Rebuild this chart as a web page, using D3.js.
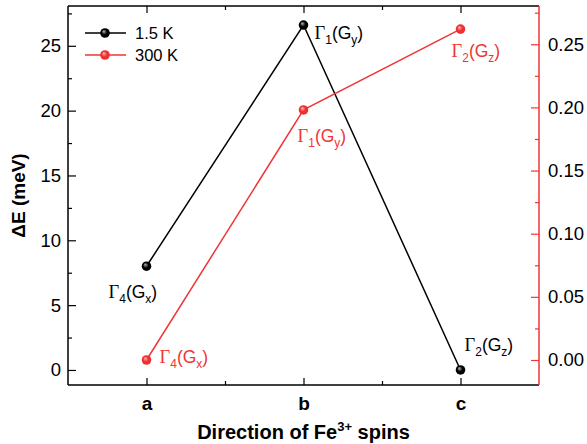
<!DOCTYPE html>
<html>
<head>
<meta charset="utf-8">
<script src="https://cdn.jsdelivr.net/npm/d3@7"></script>
<style>
  html, body { margin: 0; padding: 0; background: #fff; }
  svg { display: block; font-family: "Liberation Sans", Arial, sans-serif; }
</style>
</head>
<body>
<svg id="chart" width="587" height="444"></svg>
<script>
// Spin directions and energy differences
const directions = ["a", "b", "c"];
const lowTValues = [8.0, 26.6, 0.0];        // 1.5 K, left axis (meV)
const highTValues = [0.0, 0.198, 0.262];    // 300 K, right axis
const seriesNames = ["1.5 K", "300 K"];
const lowTLabels = [["4", "x"], ["1", "y"], ["2", "z"]];
const highTLabels = [["4", "x"], ["1", "y"], ["2", "z"]];
const leftTicks = [0, 5, 10, 15, 20, 25];
const rightTicks = [0.00, 0.05, 0.10, 0.15, 0.20, 0.25];

const RED = "#f03535";
const svg = d3.select("#chart");
const m = { left: 68, right: 539, top: 6, bottom: 385 };

const x = d3.scaleLinear().domain([0.5, 3.5]).range([m.left, m.right]);
const yL = d3.scaleLinear().domain([-1.16, 28.07]).range([m.bottom, m.top]);
const yR = d3.scaleLinear().domain([-0.0198, 0.2803]).range([m.bottom, m.top]);

// Shaded ball markers
const defs = svg.append("defs");
function ball(id, light, dark) {
  const g = defs.append("radialGradient").attr("id", id)
    .attr("cx", "0.5").attr("cy", "0.5").attr("r", "0.5")
    .attr("fx", "0.35").attr("fy", "0.3");
  g.append("stop").attr("offset", "0").attr("stop-color", light);
  g.append("stop").attr("offset", "0.55").attr("stop-color", dark);
  g.append("stop").attr("offset", "1").attr("stop-color", dark);
}
ball("ballBlack", "#bdbdbd", "#000");
ball("ballRed", "#ffc0c0", "#ee3030");

const idx = [1, 2, 3];

// Axes (all ticks point inward)
const tickFont = 18.5;
function styleAxis(g, color) {
  g.select(".domain").remove();
  g.selectAll("line").attr("stroke", color).attr("stroke-width", 1.2);
  g.selectAll("text").attr("font-size", tickFont).attr("fill", "#000");
}

// Left axis
const gL = svg.append("g").attr("transform", `translate(${m.left},0)`)
  .call(d3.axisRight(yL).tickValues(leftTicks).tickSize(8).tickFormat(d3.format("d")));
styleAxis(gL, "#000");
gL.selectAll("text").attr("x", -7).attr("text-anchor", "end");
const gLm = svg.append("g").attr("transform", `translate(${m.left},0)`)
  .call(d3.axisRight(yL).tickValues(d3.range(2.5, 28, 5)).tickSize(4).tickFormat(""));
styleAxis(gLm, "#000");

// Right axis
const gR = svg.append("g").attr("transform", `translate(${m.right},0)`)
  .call(d3.axisLeft(yR).tickValues(rightTicks).tickSize(8).tickFormat(d3.format(".2f")));
styleAxis(gR, RED);
gR.selectAll("text").attr("x", 9).attr("text-anchor", "start");
const gRm = svg.append("g").attr("transform", `translate(${m.right},0)`)
  .call(d3.axisLeft(yR).tickValues(d3.range(0.025, 0.28, 0.05)).tickSize(4).tickFormat(""));
styleAxis(gRm, RED);

// Bottom axis
const gB = svg.append("g").attr("transform", `translate(0,${m.bottom})`)
  .call(d3.axisTop(x).tickValues(idx).tickSize(7).tickFormat((d, i) => directions[i]));
styleAxis(gB, "#000");
gB.selectAll("text").attr("y", 25).attr("dy", 0).attr("font-size", 19).attr("font-weight", "bold");
const gBm = svg.append("g").attr("transform", `translate(0,${m.bottom})`)
  .call(d3.axisTop(x).tickValues([1.5, 2.5]).tickSize(4).tickFormat(""));
styleAxis(gBm, "#000");

// Top axis
const gT = svg.append("g").attr("transform", `translate(0,${m.top})`)
  .call(d3.axisBottom(x).tickValues(idx).tickSize(7).tickFormat(""));
styleAxis(gT, "#000");
const gTm = svg.append("g").attr("transform", `translate(0,${m.top})`)
  .call(d3.axisBottom(x).tickValues([1.5, 2.5]).tickSize(4).tickFormat(""));
styleAxis(gTm, "#000");

// Frame
svg.append("line").attr("x1", m.left).attr("x2", m.right).attr("y1", m.top).attr("y2", m.top)
  .attr("stroke", "#000").attr("stroke-width", 1.5);
svg.append("line").attr("x1", m.left).attr("x2", m.right).attr("y1", m.bottom).attr("y2", m.bottom)
  .attr("stroke", "#000").attr("stroke-width", 1.5);
svg.append("line").attr("x1", m.left).attr("x2", m.left).attr("y1", m.top).attr("y2", m.bottom)
  .attr("stroke", "#000").attr("stroke-width", 1.5);
svg.append("line").attr("x1", m.right).attr("x2", m.right).attr("y1", m.top).attr("y2", m.bottom)
  .attr("stroke", RED).attr("stroke-width", 1.5);

// Series lines and markers
const lineL = d3.line().x((d, i) => x(idx[i])).y(d => yL(d));
const lineR = d3.line().x((d, i) => x(idx[i])).y(d => yR(d));
svg.append("path").datum(lowTValues).attr("d", lineL)
  .attr("fill", "none").attr("stroke", "#000").attr("stroke-width", 1.5);
svg.append("path").datum(highTValues).attr("d", lineR)
  .attr("fill", "none").attr("stroke", RED).attr("stroke-width", 1.5);

svg.selectAll(".ptL").data(lowTValues).enter().append("circle")
  .attr("cx", (d, i) => x(idx[i])).attr("cy", d => yL(d)).attr("r", 4.8)
  .attr("fill", "url(#ballBlack)");
svg.selectAll(".ptR").data(highTValues).enter().append("circle")
  .attr("cx", (d, i) => x(idx[i])).attr("cy", d => yR(d)).attr("r", 4.8)
  .attr("fill", "url(#ballRed)");

// Irreducible representation labels, Γn(Gk)
function irrep(px, py, lab, color) {
  const t = svg.append("text").attr("x", px).attr("y", py)
    .attr("font-size", 17.5).attr("fill", color);
  t.append("tspan").attr("font-family", "'Liberation Serif', 'Times New Roman', serif").attr("font-size", 18.5).text("Γ");
  t.append("tspan").attr("font-size", 12).attr("dy", 5).text(lab[0]);
  t.append("tspan").attr("dy", -5).text("(G");
  t.append("tspan").attr("font-size", 12).attr("dy", 5).text(lab[1]);
  t.append("tspan").attr("dy", -5).text(")");
}
const offL = [[-38, 32], [11, 14], [4, -19]];
const offR = [[13, 3], [-6, 32], [-9, 28]];
lowTValues.forEach((v, i) => irrep(x(idx[i]) + offL[i][0], yL(v) + offL[i][1], lowTLabels[i], "#000"));
highTValues.forEach((v, i) => irrep(x(idx[i]) + offR[i][0], yR(v) + offR[i][1], highTLabels[i], RED));

// Legend
const legend = svg.append("g");
[["#000", "url(#ballBlack)"], [RED, "url(#ballRed)"]].forEach((c, i) => {
  const ly = 33 + i * 22;
  legend.append("line").attr("x1", 85).attr("x2", 126).attr("y1", ly).attr("y2", ly)
    .attr("stroke", c[0]).attr("stroke-width", 1.5);
  legend.append("circle").attr("cx", 105).attr("cy", ly).attr("r", 4.8).attr("fill", c[1]);
  legend.append("text").attr("x", 135).attr("y", ly + 6).attr("font-size", 16.5)
    .attr("fill", "#000").text(seriesNames[i]);
});

// Axis titles
svg.append("text").attr("transform", `translate(25,${(m.top + m.bottom) / 2}) rotate(-90)`)
  .attr("text-anchor", "middle").attr("font-size", 19).attr("font-weight", "bold")
  .text("ΔE (meV)");
const xt = svg.append("text").attr("x", (m.left + m.right) / 2).attr("y", 439)
  .attr("text-anchor", "middle").attr("font-size", 20).attr("font-weight", "bold");
xt.append("tspan").text("Direction of Fe");
xt.append("tspan").attr("font-size", 13).attr("dy", -8).text("3+");
xt.append("tspan").attr("dy", 8).text(" spins");
</script>
</body>
</html>
